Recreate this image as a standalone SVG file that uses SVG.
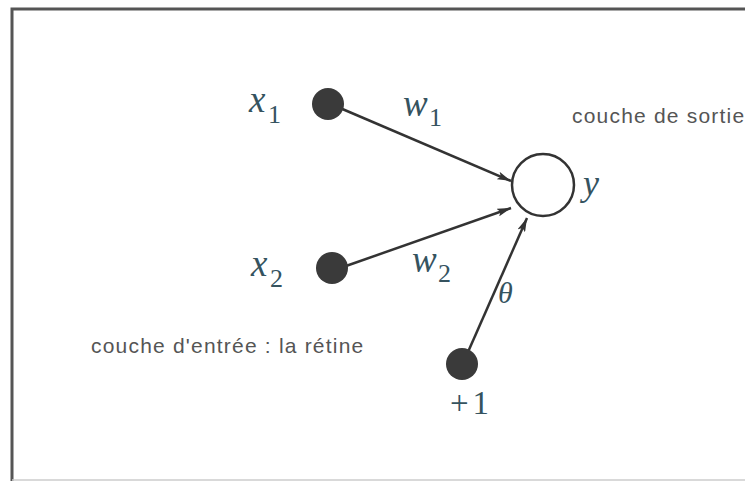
<svg xmlns="http://www.w3.org/2000/svg" width="745" height="482" viewBox="0 0 745 482">
<defs>
<marker id="ah" viewBox="0 0 14 8" refX="14" refY="4" markerWidth="14" markerHeight="8" orient="auto" markerUnits="userSpaceOnUse">
<path d="M0,0 L14,4 L0,8 L3,4 z" fill="#333"/>
</marker>
<style>
.dot{fill:#3a3a3a;}
.out{fill:#fff;stroke:#333;stroke-width:2.5;}
.edge{stroke:#333;stroke-width:2.5;fill:none;}
.math{font-family:"Liberation Serif","DejaVu Serif",serif;font-style:italic;fill:#35535f;}
.num{font-family:"Liberation Serif","DejaVu Serif",serif;fill:#35535f;}
.lab{font-family:"Liberation Sans",Arial,sans-serif;font-size:21px;letter-spacing:1.2px;fill:#555;}
</style>
</defs>
<rect x="0" y="0" width="745" height="482" fill="#fff"/>
<path d="M12,481 L12,9 L745,9" fill="none" stroke="#555" stroke-width="3"/>
<line x1="12" y1="480" x2="745" y2="480" stroke="#ccc" stroke-width="1.5"/>
<g id="connectors">
<line class="edge" x1="340" y1="108" x2="511" y2="181" marker-end="url(#ah)"/>
<line class="edge" x1="346" y1="266" x2="511" y2="208" marker-end="url(#ah)"/>
<line class="edge" x1="468" y1="352" x2="527" y2="218" marker-end="url(#ah)"/>
</g>
<g id="x1"><circle class="dot" cx="328" cy="104" r="16"/><text class="math" x="249" y="112" font-size="37">x</text><text class="num" x="268" y="123" font-size="26">1</text></g>
<g id="x2"><circle class="dot" cx="332" cy="268" r="16"/><text class="math" x="251" y="276" font-size="37">x</text><text class="num" x="270" y="287" font-size="26">2</text></g>
<g id="bias"><circle class="dot" cx="462" cy="364" r="16"/><text class="num" x="450" y="414" font-size="33" letter-spacing="4">+1</text></g>
<g id="y"><circle class="out" cx="543" cy="185" r="31"/><text class="math" x="583" y="195" font-size="36">y</text></g>
<g id="w1"><text class="math" x="403" y="116" font-size="37">w</text><text class="num" x="429" y="126" font-size="26">1</text></g>
<g id="w2"><text class="math" x="412" y="272" font-size="37">w</text><text class="num" x="438" y="282" font-size="26">2</text></g>
<g id="theta"><text class="math" x="498" y="303" font-size="30">θ</text></g>
<text class="lab" x="572" y="123">couche de sortie</text>
<text class="lab" x="91" y="353">couche d'entrée : la rétine</text>
</svg>
